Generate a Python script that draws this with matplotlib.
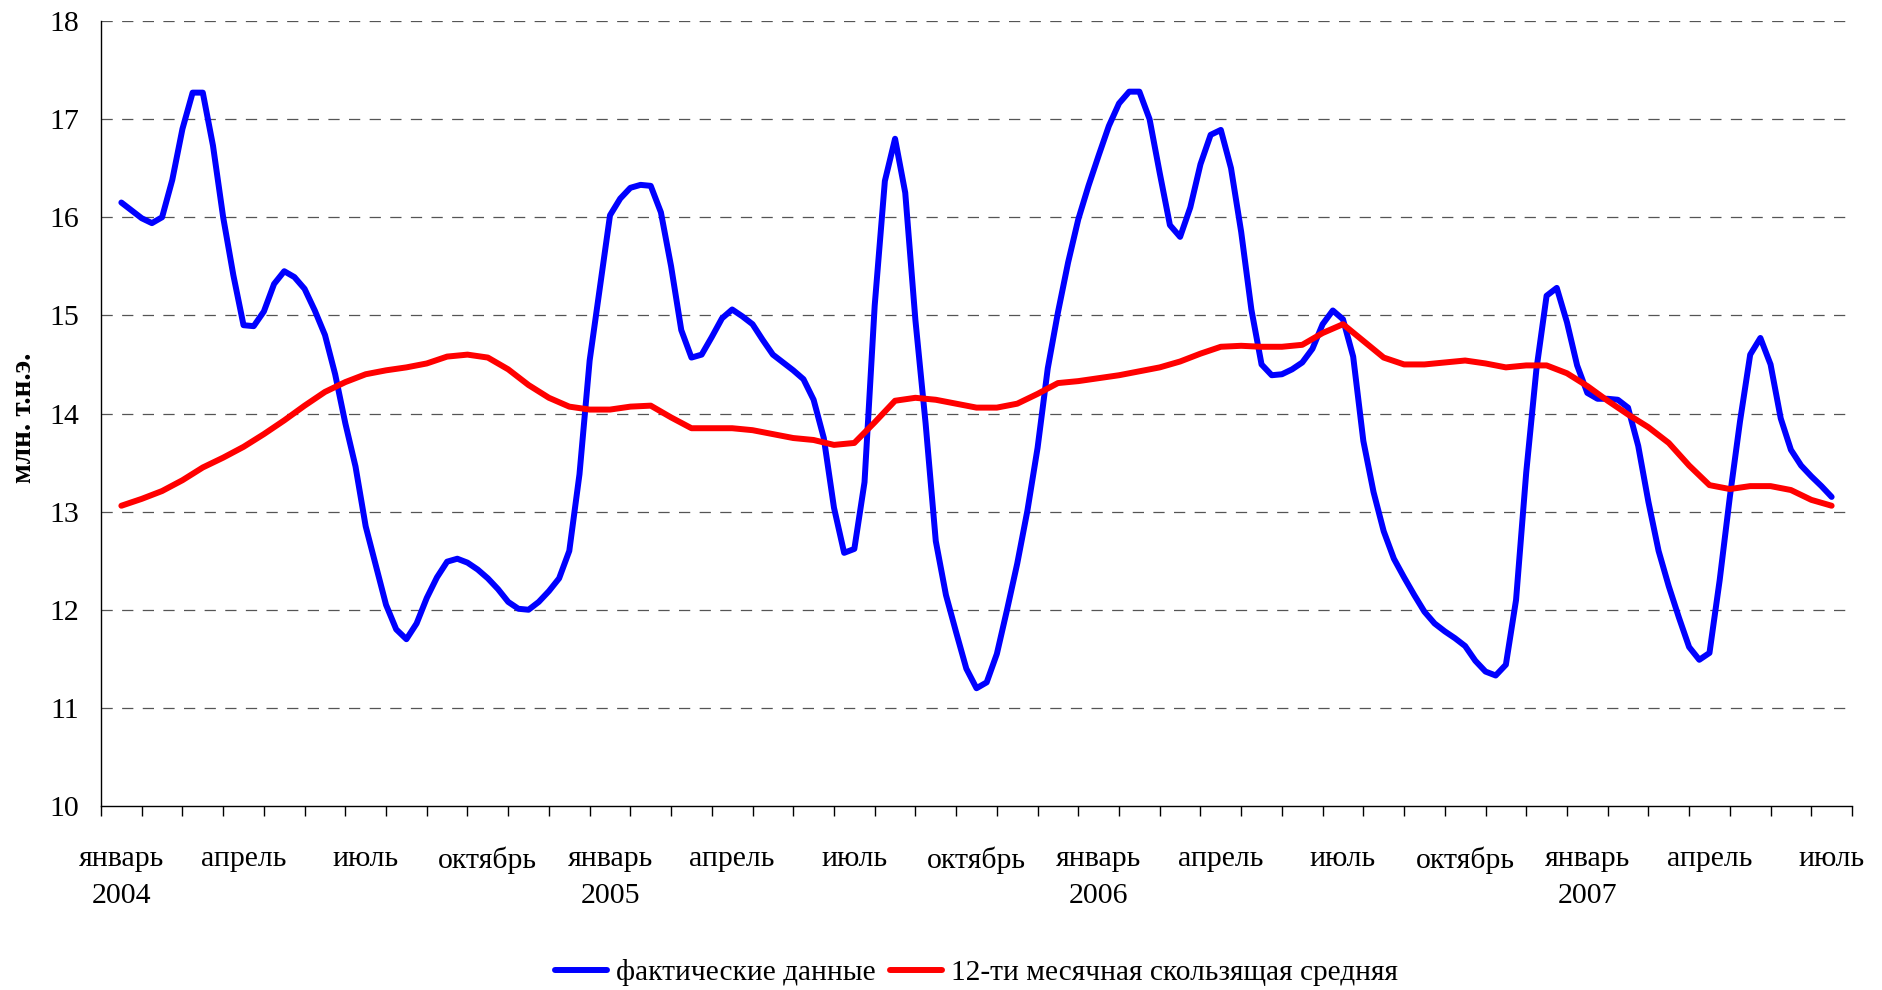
import matplotlib
matplotlib.use("Agg")
import matplotlib.pyplot as plt
import numpy as np
from matplotlib.ticker import FixedLocator, NullFormatter

# ---------------- data ----------------
months = ["январь", "февраль", "март", "апрель", "май", "июнь", "июль",
          "август", "сентябрь", "октябрь", "ноябрь", "декабрь"]
start_year = 2004
n_months = 43  # январь 2004 ... июль 2007

# fact data, sampled 4 times per month starting at the middle of январь 2004
actual = [
    16.15, 16.07, 15.99, 15.94, 16.00, 16.38, 16.90, 17.27, 17.27, 16.73, 16.00, 15.41,
    14.90, 14.89, 15.04, 15.32, 15.45, 15.39, 15.27, 15.05, 14.80, 14.40, 13.90, 13.46,
    12.85, 12.45, 12.05, 11.80,
    11.70, 11.86, 12.12, 12.33, 12.49, 12.52, 12.48, 12.41, 12.32, 12.21, 12.08, 12.01,
    12.00, 12.08, 12.19, 12.32, 12.60, 13.38, 14.54, 15.28, 16.02, 16.19, 16.30, 16.33,
    16.32, 16.05, 15.50, 14.85,
    14.57, 14.60, 14.78, 14.97, 15.06, 14.99, 14.91, 14.75, 14.60, 14.52, 14.44, 14.35,
    14.14, 13.75, 13.04, 12.58, 12.62, 13.30, 15.10, 16.37, 16.80, 16.25, 14.95, 13.90,
    12.70, 12.15, 11.77, 11.40, 11.20, 11.26, 11.55,
    12.00, 12.47, 13.01, 13.65, 14.46, 15.03, 15.54, 15.98, 16.32, 16.63, 16.93, 17.16,
    17.28, 17.28, 17.00, 16.45, 15.92, 15.80, 16.10, 16.54, 16.84, 16.89, 16.50, 15.85,
    15.06, 14.50, 14.39, 14.40, 14.45,
    14.52, 14.66, 14.91, 15.05, 14.96, 14.58, 13.72, 13.20, 12.80, 12.52, 12.33, 12.15,
    11.98, 11.86, 11.78, 11.71, 11.63, 11.48, 11.37, 11.33, 11.44, 12.10, 13.40, 14.45,
    15.20, 15.28, 14.93, 14.49, 14.21,
    14.15, 14.15, 14.14, 14.06, 13.67, 13.10, 12.60, 12.24, 11.92, 11.62, 11.49, 11.56,
    12.30, 13.15, 13.92, 14.60, 14.77, 14.50, 13.95, 13.63, 13.47, 13.36, 13.26, 13.15,
]
actual_per_month = 4

# 12-month moving average, sampled 2 times per month
moving_avg = [
    13.06, 13.13, 13.21, 13.32, 13.45, 13.55, 13.66, 13.79, 13.93, 14.08, 14.22, 14.32,
    14.40, 14.44,
    14.47, 14.51, 14.58, 14.60, 14.57, 14.45, 14.29, 14.16, 14.07, 14.04, 14.04, 14.07,
    14.08, 13.96,
    13.85, 13.85, 13.85, 13.83, 13.79, 13.75, 13.73, 13.68, 13.70, 13.91, 14.13, 14.16,
    14.14, 14.10, 14.06, 14.06,
    14.10, 14.20, 14.31, 14.33, 14.36, 14.39, 14.43, 14.47, 14.53, 14.61, 14.68, 14.69,
    14.68, 14.68,
    14.70, 14.82, 14.91, 14.74, 14.57, 14.50, 14.50, 14.52, 14.54, 14.51, 14.47, 14.49,
    14.49, 14.41, 14.28,
    14.13, 13.99, 13.86, 13.70, 13.47, 13.27, 13.23, 13.26, 13.26, 13.22, 13.12, 13.06,
]
avg_per_month = 2

label_actual = "фактические данные"
label_avg = "12-ти месячная скользящая средняя"
y_label = "млн. т.н.э."
y_ticks = [10, 11, 12, 13, 14, 15, 16, 17, 18]

# ---------------- plot ----------------
plt.rcParams["font.family"] = ["Liberation Serif", "DejaVu Serif"]
FS = 21.5

fig = plt.figure(figsize=(18.83, 9.90), dpi=100)
ax = fig.add_axes([101 / 1883, 1 - 806 / 990, (1852 - 101) / 1883, (806 - 21) / 990])

x_act = np.arange(len(actual)) / actual_per_month
x_avg = np.arange(len(moving_avg)) / avg_per_month

l1, = ax.plot(x_act, actual, color="#0000FF", lw=4.3, solid_joinstyle="round",
              solid_capstyle="round", label=label_actual, zorder=3)
l2, = ax.plot(x_avg, moving_avg, color="#FF0000", lw=4.3, solid_joinstyle="round",
              solid_capstyle="round", label=label_avg, zorder=3)

ax.set_xlim(-0.5, n_months - 0.5)
ax.set_ylim(10, 18)
ax.set_yticks(y_ticks)
ax.set_yticklabels([str(v) for v in y_ticks], fontsize=FS)
ax.tick_params(axis="y", length=0, pad=16)

# category boundaries as tick marks, labels every 3 months
ax.xaxis.set_minor_locator(FixedLocator(np.arange(n_months + 1) - 0.5))
ax.xaxis.set_minor_formatter(NullFormatter())
major_pos = list(range(0, n_months, 3))
major_lab = []
for p in major_pos:
    m = months[p % 12]
    if p % 12 == 0:
        major_lab.append(f"{m}\n{start_year + p // 12}")
    else:
        major_lab.append(m)
ax.set_xticks(major_pos)
ax.set_xticklabels(major_lab, fontsize=FS, linespacing=1.55, va="top")
ax.tick_params(axis="x", which="major", length=0, pad=29)
ax.tick_params(axis="x", which="minor", length=7, width=1.0, color="black", direction="out")

for yv in y_ticks[1:]:
    ax.axhline(yv, color="#555555", lw=0.9, ls=(0, (9, 7.5)), zorder=1)

for s in ["top", "right"]:
    ax.spines[s].set_visible(False)
for s in ["left", "bottom"]:
    ax.spines[s].set_color("black")
    ax.spines[s].set_linewidth(1.0)

fig.text(24 / 1883, 1 - 418 / 990, y_label, rotation=90, fontsize=21,
         fontweight="bold", ha="center", va="center")

fig.legend(handles=[l1, l2], loc="center", bbox_to_anchor=(0.5186, 1 - 973 / 990),
           ncol=2, frameon=False, fontsize=21.2, handlelength=1.75, handletextpad=0.3,
           columnspacing=0.5)

fig.savefig("out.png", dpi=100)
